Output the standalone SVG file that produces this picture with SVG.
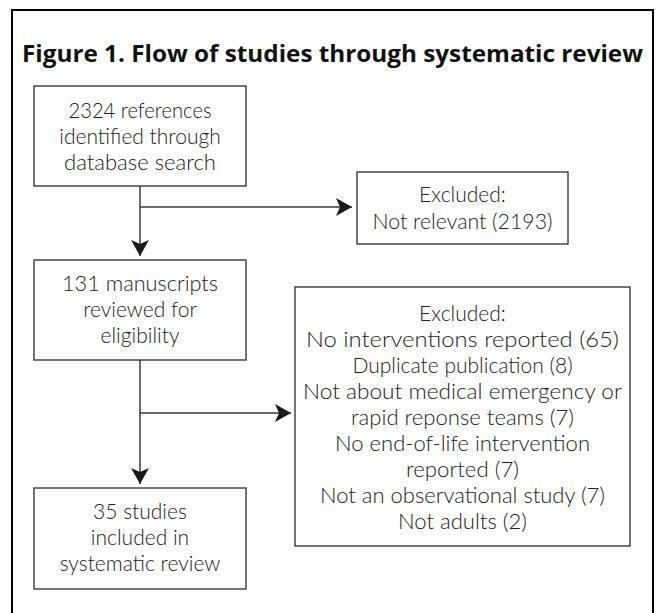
<svg xmlns="http://www.w3.org/2000/svg" width="661" height="613" viewBox="0 0 661 613">
  <style>
    .frame { fill: #ffffff; stroke: #000000; stroke-width: 2; }
    .box { fill: #ffffff; stroke: #3a3a3a; stroke-width: 1.4; }
    .title { font-family: "Open Sans", "Noto Sans", "Liberation Sans", sans-serif; font-weight: 700; font-size: 24px; fill: #111111; }
    .t { font-family: Lato, "Open Sans", "Liberation Sans", sans-serif; font-weight: 300; font-size: 21px; fill: #222222; text-anchor: middle; }
    .conn { fill: none; stroke: #3a3a3a; stroke-width: 1.5; }
  </style>
  <defs>
    <marker id="arrow" viewBox="0 0 16 18" refX="16" refY="9" markerWidth="16" markerHeight="18" markerUnits="userSpaceOnUse" orient="auto">
      <path d="M0,0 L16,9 L0,18 L4,9 Z" fill="#1a1a1a"/>
    </marker>
  </defs>
  <rect class="frame" x="12" y="10" width="641" height="620"/>
  <text class="title" x="332.5" y="62" text-anchor="middle" textLength="621" lengthAdjust="spacingAndGlyphs">Figure 1. Flow of studies through systematic review</text>

  <g id="connectors">
    <path class="conn" d="M140,186 V256" marker-end="url(#arrow)"/>
    <path class="conn" d="M140,207 H352" marker-end="url(#arrow)"/>
    <path class="conn" d="M140,360 V484" marker-end="url(#arrow)"/>
    <path class="conn" d="M140,413 H291" marker-end="url(#arrow)"/>
  </g>

  <g id="node-references">
    <rect class="box" x="34" y="86" width="212" height="100"/>
    <text class="t" x="140" y="118" textLength="143" lengthAdjust="spacingAndGlyphs">2324 references</text>
    <text class="t" x="140" y="144">identified through</text>
    <text class="t" x="140" y="170" textLength="152" lengthAdjust="spacingAndGlyphs">database search</text>
  </g>

  <g id="node-excluded1">
    <rect class="box" x="357" y="172" width="211" height="72"/>
    <text class="t" x="462.5" y="202">Excluded:</text>
    <text class="t" x="462.5" y="229" textLength="180" lengthAdjust="spacingAndGlyphs">Not relevant (2193)</text>
  </g>

  <g id="node-manuscripts">
    <rect class="box" x="34" y="260" width="212" height="100"/>
    <text class="t" x="140" y="291" textLength="156" lengthAdjust="spacingAndGlyphs">131 manuscripts</text>
    <text class="t" x="140" y="317">reviewed for</text>
    <text class="t" x="140" y="343">eligibility</text>
  </g>

  <g id="node-excluded2">
    <rect class="box" x="295" y="287" width="335" height="259"/>
    <text class="t" x="462.5" y="321">Excluded:</text>
    <text class="t" x="462.5" y="347" textLength="313" lengthAdjust="spacingAndGlyphs">No interventions reported (65)</text>
    <text class="t" x="462.5" y="373">Duplicate publication (8)</text>
    <text class="t" x="462.5" y="399" textLength="319" lengthAdjust="spacingAndGlyphs">Not about medical emergency or</text>
    <text class="t" x="462.5" y="425" textLength="223" lengthAdjust="spacingAndGlyphs">rapid reponse teams (7)</text>
    <text class="t" x="462.5" y="451" textLength="255" lengthAdjust="spacingAndGlyphs">No end-of-life intervention</text>
    <text class="t" x="462.5" y="477" textLength="113" lengthAdjust="spacingAndGlyphs">reported (7)</text>
    <text class="t" x="462.5" y="503" textLength="285" lengthAdjust="spacingAndGlyphs">Not an observational study (7)</text>
    <text class="t" x="462.5" y="529" textLength="129" lengthAdjust="spacingAndGlyphs">Not adults (2)</text>
  </g>

  <g id="node-included">
    <rect class="box" x="34" y="488" width="212" height="101"/>
    <text class="t" x="140" y="519">35 studies</text>
    <text class="t" x="140" y="545">included in</text>
    <text class="t" x="140" y="571">systematic review</text>
  </g>
</svg>
